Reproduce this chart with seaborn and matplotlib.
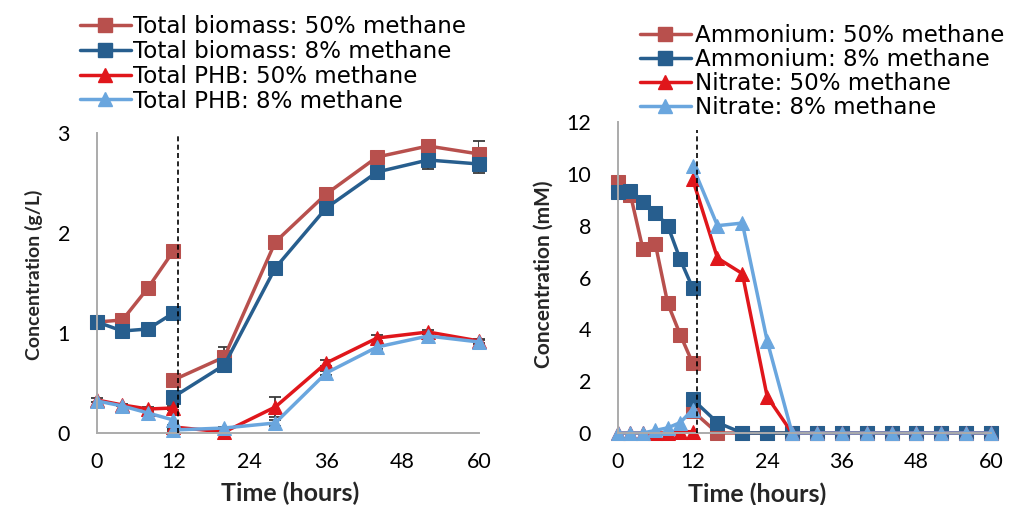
import numpy as np
import pandas as pd
import matplotlib
matplotlib.use("Agg")
import matplotlib.pyplot as plt
from matplotlib.lines import Line2D
import seaborn as sns

# ---------------- data ----------------
# Left panel: biomass & PHB (g/L); two segments split at the 12 h medium exchange
t_left_1 = [0, 4, 8, 12]
t_left_2 = [12, 20, 28, 36, 44, 52, 60]
biomass50_1 = [1.11, 1.13, 1.45, 1.82]
biomass50_2 = [0.53, 0.76, 1.91, 2.39, 2.76, 2.87, 2.79]
biomass8_1 = [1.11, 1.02, 1.04, 1.20]
biomass8_2 = [0.36, 0.68, 1.65, 2.25, 2.61, 2.73, 2.69]
phb50_1 = [0.33, 0.28, 0.24, 0.25]
phb50_2 = [0.06, 0.01, 0.26, 0.70, 0.95, 1.01, 0.92]
phb8_1 = [0.32, 0.27, 0.20, 0.13]
phb8_2 = [0.03, 0.05, 0.10, 0.60, 0.86, 0.97, 0.91]
# error bars
biomass50_err2 = [0.02, 0.10, 0.03, 0.03, 0.03, 0.02, 0.13]
biomass8_err2 = [0.02, 0.03, 0.03, 0.03, 0.06, 0.09, 0.09]
phb50_err2 = [0.02, 0.01, 0.10, 0.03, 0.03, 0.02, 0.02]
phb8_err2 = [0.01, 0.01, 0.03, 0.02, 0.02, 0.02, 0.02]
phb50_err1 = [0.02, 0.01, 0.02, 0.02]

# Right panel: ammonium & nitrate (mM)
t_right_1 = [0, 2, 4, 6, 8, 10, 12]
t_right_2 = [12, 16, 20, 24, 28, 32, 36, 40, 44, 48, 52, 56, 60]
amm50_1 = [9.7, 9.2, 7.1, 7.3, 5.0, 3.8, 2.7]
amm50_2 = [0.85, 0.0, 0.0, 0.0, 0.0, 0.0, 0.0, 0.0, 0.0, 0.0, 0.0, 0.0, 0.0]
amm8_1 = [9.3, 9.35, 8.9, 8.5, 8.0, 6.7, 5.6]
amm8_2 = [1.3, 0.4, 0.0, 0.0, 0.0, 0.0, 0.0, 0.0, 0.0, 0.0, 0.0, 0.0, 0.0]
nit50_1 = [0.0, 0.0, 0.0, 0.0, 0.0, 0.05, 0.05]
nit50_2 = [9.8, 6.75, 6.15, 1.4, 0.0, 0.0, 0.0, 0.0, 0.0, 0.0, 0.0, 0.0, 0.0]
nit8_1 = [0.0, 0.0, 0.0, 0.1, 0.2, 0.4, 0.9]
nit8_2 = [10.3, 8.0, 8.1, 3.55, 0.0, 0.0, 0.0, 0.0, 0.0, 0.0, 0.0, 0.0, 0.0]

left_labels = ["Total biomass: 50% methane", "Total biomass: 8% methane",
               "Total PHB: 50% methane", "Total PHB: 8% methane"]
right_labels = ["Ammonium: 50% methane", "Ammonium: 8% methane",
                "Nitrate: 50% methane", "Nitrate: 8% methane"]
x_ticks = [0, 12, 24, 36, 48, 60]

# ---------------- style ----------------
C_BRICK = "#B8504D"
C_NAVY = "#275E8E"
C_RED = "#E0161B"
C_LBLUE = "#6AA6DE"
colors = [C_BRICK, C_NAVY, C_RED, C_LBLUE]
mk = ["s", "s", "^", "^"]
msz = [10, 10, 10.5, 10.5]

sns.set_theme(style="white")
plt.rcParams["font.family"] = ["Lato", "DejaVu Sans"]

def make_df(labels, t1, t2, series1, series2):
    rows = []
    for lab, s1, s2 in zip(labels, series1, series2):
        for t, v in zip(t1, s1):
            rows.append((lab, "a", t, v))
        for t, v in zip(t2, s2):
            rows.append((lab, "b", t, v))
    return pd.DataFrame(rows, columns=["series", "seg", "time", "value"])

df_left = make_df(left_labels, t_left_1, t_left_2,
                  [biomass50_1, biomass8_1, phb50_1, phb8_1],
                  [biomass50_2, biomass8_2, phb50_2, phb8_2])
df_right = make_df(right_labels, t_right_1, t_right_2,
                   [amm50_1, amm8_1, nit50_1, nit8_1],
                   [amm50_2, amm8_2, nit50_2, nit8_2])

fig = plt.figure(figsize=(10.15, 5.05), dpi=100)
axL = fig.add_axes([97 / 1015, 72 / 505, 382 / 1015, 300 / 505])
axR = fig.add_axes([618 / 1015, 72 / 505, 373 / 1015, 311 / 505])

def draw(ax, df, labels):
    for lab, c, m, s in zip(labels, colors, mk, msz):
        sub = df[df["series"] == lab]
        sns.lineplot(data=sub, x="time", y="value", units="seg", estimator=None,
                     color=c, marker=m, markersize=s, markeredgecolor=c,
                     linewidth=2.5, ax=ax, legend=False, sort=True)
    for ln in ax.lines:
        ln.set_clip_on(False)

errcolor = "#3a3a3a"
for t, vals, err in [(t_left_2, biomass50_2, biomass50_err2),
                     (t_left_2, biomass8_2, biomass8_err2),
                     (t_left_2, phb50_2, phb50_err2),
                     (t_left_2, phb8_2, phb8_err2),
                     (t_left_1, phb50_1, phb50_err1)]:
    axL.errorbar(t, vals, yerr=err, fmt="none", ecolor=errcolor,
                 elinewidth=1.3, capsize=4.5, capthick=1.3, zorder=1)

draw(axL, df_left, left_labels)
draw(axR, df_right, right_labels)

for ax in (axL, axR):
    ax.axvline(12.7, ymin=0, ymax=0.975 if ax is axR else 1.0,
               color="black", lw=1.2, ls=(0, (3, 2)), zorder=5)

axL.set_xlim(0, 60)
axL.set_ylim(0, 3)
axL.set_yticks([0, 1, 2, 3])
axL.set_yticks([0.5, 1.5, 2.5], minor=True)
axR.set_xlim(0, 60)
axR.set_ylim(0, 12)
axR.set_yticks([0, 2, 4, 6, 8, 10, 12])

gray = "#ababab"
for ax, ylab, ysz in [(axL, "Concentration (g/L)", 14), (axR, "Concentration (mM)", 15)]:
    ax.set_xticks(x_ticks)
    for sp in ("top", "right"):
        ax.spines[sp].set_visible(False)
    for sp in ("left", "bottom"):
        ax.spines[sp].set_color(gray)
        ax.spines[sp].set_linewidth(1.4)
    ax.tick_params(axis="both", which="both", direction="out", color=gray,
                   width=1.4, length=6.5, labelsize=15.5, labelcolor="black")
    ax.tick_params(axis="x", which="major", pad=7)
    ax.tick_params(axis="y", which="major", pad=13)
    ax.set_xlabel("Time (hours)", fontsize=18, fontweight="bold")
    ax.set_ylabel(ylab, fontsize=ysz, fontweight="bold")
    ax.grid(False)
    ax.set_facecolor("white")

axL.xaxis.set_label_coords(0.505, -0.163)
axR.xaxis.set_label_coords(0.373, -0.158)
axL.yaxis.set_label_coords(-0.141, 0.527)
axR.yaxis.set_label_coords(-0.172, 0.51)

def handles_for():
    return [Line2D([0], [0], color=c, marker=m, markersize=s, markeredgecolor=c,
                   linewidth=2.5) for c, m, s in zip(colors, mk, msz)]

leg_prop = {"family": "DejaVu Sans", "size": 16.6}
fig.legend(handles_for(), left_labels, loc="upper left",
           bbox_to_anchor=(80 / 1015, 1 - 15 / 505), frameon=False,
           prop=leg_prop, handlelength=2.2,
           handletextpad=0.12, labelspacing=0.08, borderpad=0, borderaxespad=0,
           labelcolor="black")
fig.legend(handles_for(), right_labels, loc="upper left",
           bbox_to_anchor=(640 / 1015, 1 - 24 / 505), frameon=False,
           prop=leg_prop, handlelength=2.2,
           handletextpad=0.2, labelspacing=0.05, borderpad=0, borderaxespad=0,
           labelcolor="black")

fig.savefig("out.png", dpi=100, facecolor="white")
